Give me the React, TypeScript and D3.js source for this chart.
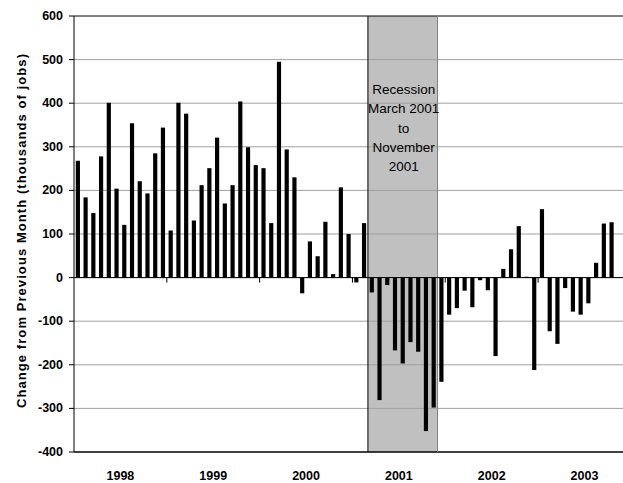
import React from "react";
import * as d3 from "d3";

const years = ["1998", "1999", "2000", "2001", "2002", "2003"];
const monthsPerYear = 12;
const values1998 = [268, 184, 148, 278, 401, 204, 121, 354, 221, 193, 285, 344];
const values1999 = [108, 401, 376, 131, 212, 251, 321, 170, 212, 404, 299, 258];
const values2000 = [251, 125, 495, 294, 230, -36, 83, 49, 128, 8, 207, 100];
const values2001 = [-11, 125, -34, -281, -17, -167, -197, -148, -170, -352, -298, -239];
const values2002 = [-85, -70, -30, -68, -6, -29, -180, 20, 65, 118, 2, -212];
const values2003 = [157, -123, -152, -24, -78, -85, -59, 34, 124, 127];
const yTicks = [600, 500, 400, 300, 200, 100, 0, -100, -200, -300, -400];
const recessionStart = "2001-03";
const recessionEnd = "2001-11";
const recessionLines = ["Recession", "March 2001", "to", "November", "2001"];
const yTitle = "Change from Previous Month (thousands of jobs)";

const allValues = [values1998, values1999, values2000, values2001, values2002, values2003];
const months: string[] = [];
years.forEach((y) => {
  for (let m = 1; m <= monthsPerYear; m++) months.push(`${y}-${String(m).padStart(2, "0")}`);
});
const data = allValues.flatMap((arr, yi) =>
  arr.map((v, mi) => ({ key: months[yi * 12 + mi], value: v }))
);

const W = 623;
const H = 483;
const FONT = "Arial, 'Liberation Sans', sans-serif";

export default function App() {
  const x0 = 74;
  const step = 7.735;
  const x = d3
    .scaleBand<string>()
    .domain(months)
    .range([x0, x0 + step * months.length])
    .paddingInner(0.46)
    .paddingOuter(0.23);
  const y = d3.scaleLinear().domain([-400, 600]).range([452, 16]);
  const bandStart = (k: string) => x(k)! - x.step() * x.paddingInner() / 2;
  const shadeX1 = bandStart(recessionStart);
  const shadeX2 = bandStart(recessionEnd) + x.step();
  const right = W;
  const yearBoundaries = years.slice(1).map((yr) => bandStart(`${yr}-01`));

  return (
    <div style={{ position: "absolute", left: 0, top: 0 }}>
      <svg width={W} height={H} style={{ display: "block", background: "#fff" }}>
        <rect x={0} y={0} width={W} height={H} fill="#fff" />
        <rect x={shadeX1} y={y(600)} width={shadeX2 - shadeX1} height={y(-400) - y(600)} fill="#c0c0c0" />
        {yTicks.map((t) => (
          <line
            key={t}
            x1={x0}
            x2={right}
            y1={y(t)}
            y2={y(t)}
            stroke={t === 600 || t === -400 ? "#000" : "#a0a0a0"}
            strokeWidth={t === -400 ? 1.5 : 1}
          />
        ))}
        <line x1={shadeX1} x2={shadeX1} y1={y(600)} y2={y(-400)} stroke="#000" strokeWidth={1} />
        <line x1={shadeX2} x2={shadeX2} y1={y(600)} y2={y(-400)} stroke="#808080" strokeWidth={1} />
        {data.map((d) => (
          <rect
            key={d.key}
            x={x(d.key)!}
            y={y(Math.max(0, d.value))}
            width={x.bandwidth()}
            height={Math.max(1, Math.abs(y(d.value) - y(0)))}
            fill="#000"
          />
        ))}
        <line x1={x0} x2={right} y1={y(0)} y2={y(0)} stroke="#000" strokeWidth={1} />
        {yearBoundaries.map((bx, i) => (
          <line key={i} x1={bx} x2={bx} y1={y(0)} y2={y(0) + 5} stroke="#000" strokeWidth={1} />
        ))}
        <line x1={x0} x2={x0} y1={y(600)} y2={y(-400)} stroke="#000" strokeWidth={1} />
        {yTicks.map((t) => (
          <g key={t}>
            <line x1={x0 - 5} x2={x0} y1={y(t)} y2={y(t)} stroke="#000" />
            <text
              x={63}
              y={y(t)}
              textAnchor="end"
              dominantBaseline="central"
              fontFamily={FONT}
              fontWeight="bold"
              fontSize={12.5}
              fill="#000"
            >
              {t}
            </text>
          </g>
        ))}
        {years.map((yr) => {
          const cx = bandStart(`${yr}-01`) + x.step() * 6;
          return (
            <text
              key={yr}
              x={cx}
              y={476}
              textAnchor="middle"
              dominantBaseline="central"
              fontFamily={FONT}
              fontWeight="bold"
              fontSize={12.5}
              fill="#000"
            >
              {yr}
            </text>
          );
        })}
        {recessionLines.map((line, i) => (
          <text
            key={i}
            x={(shadeX1 + shadeX2) / 2 + 1}
            y={89.5 + i * 19.3}
            textAnchor="middle"
            dominantBaseline="central"
            fontFamily={FONT}
            fontSize={13.5}
            fill="#000"
          >
            {line}
          </text>
        ))}
        <text
          transform={`translate(21, 231) rotate(-90)`}
          textAnchor="middle"
          dominantBaseline="central"
          fontFamily={FONT}
          fontWeight="bold"
          fontSize={13}
          textLength={354}
          lengthAdjust="spacing"
          fill="#000"
        >
          {yTitle}
        </text>
      </svg>
    </div>
  );
}
